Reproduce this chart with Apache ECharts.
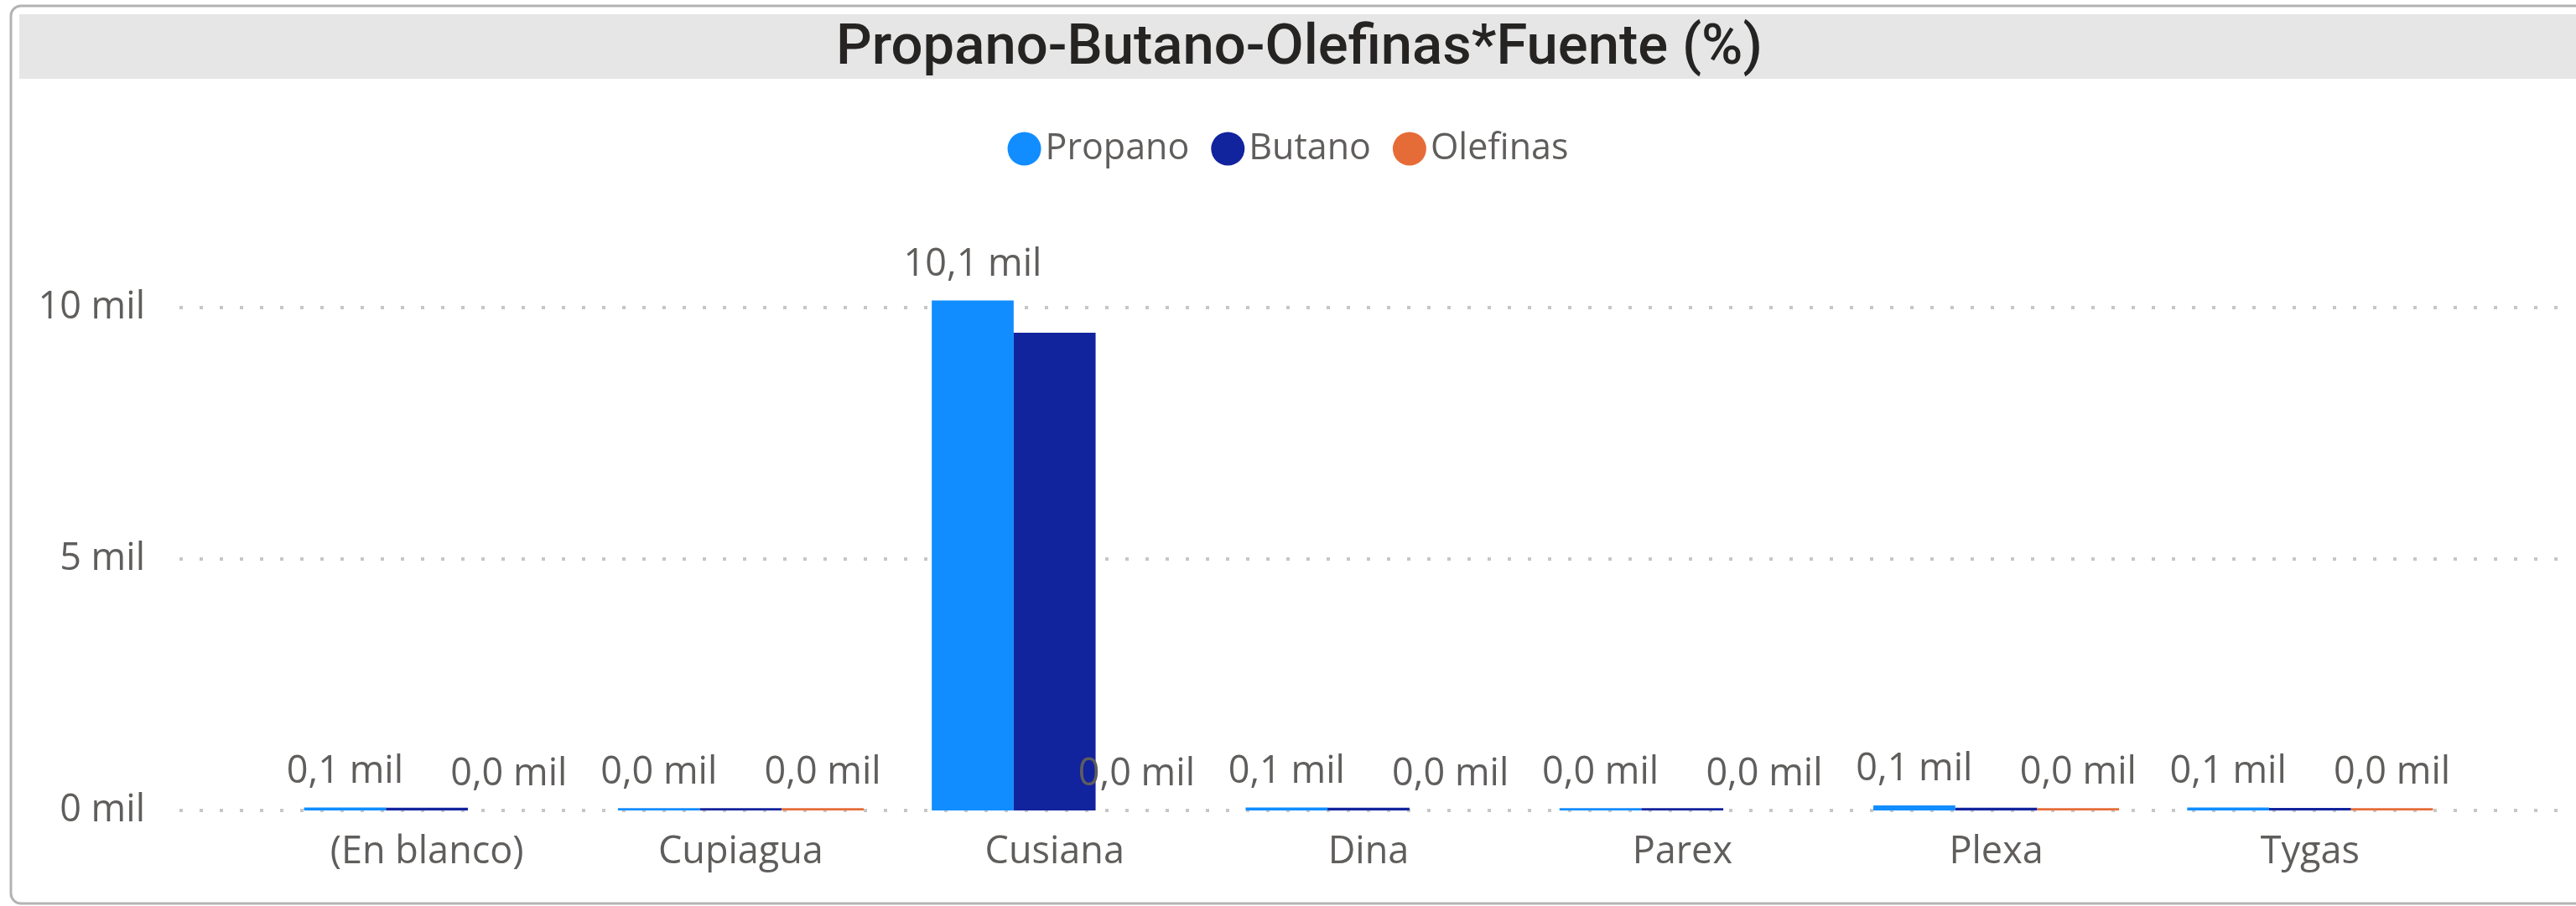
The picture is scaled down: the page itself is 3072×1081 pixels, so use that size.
<!DOCTYPE html>
<html>
<head>
<meta charset="utf-8">
<script src="https://cdn.jsdelivr.net/npm/echarts@6/dist/echarts.min.js"></script>
<style>
html,body{margin:0;padding:0;background:#fff;}
#chart{width:3072px;height:1081px;}
</style>
</head>
<body>
<div id="chart"></div>
<script>
// ---- data ----
const categories = ['(En blanco)', 'Cupiagua', 'Cusiana', 'Dina', 'Parex', 'Plexa', 'Tygas'];
const propano  = [60, 45, 10140, 60, 45, 100, 60];
const butano   = [55, 45, 9500, 55, 45, 55, 50];
const olefinas = [0, 45, 0, 0, 0, 45, 45];
const seriesNames = ['Propano', 'Butano', 'Olefinas'];
const yTicks = [0, 5000, 10000];
const titleText = 'Propano-Butano-Olefinas*Fuente (%)';

const FONT = '"Segoe UI", "Open Sans", "Noto Sans", sans-serif';
const TXT = '#605E5C';
const colors = ['#118DFF', '#12239E', '#E66C37'];

const fmtLabel = v => (v / 1000).toFixed(1).replace('.', ',') + ' mil';
const fmtAxis = v => (v / 1000) + ' mil';

const chart = echarts.init(document.getElementById('chart'), null, {renderer: 'canvas'});

const labelCfg = {
  show: true, position: 'top', distance: 20,
  fontFamily: FONT, fontSize: 45, color: TXT,
  formatter: p => fmtLabel(p.value)
};

const option = {
  animation: false,
  color: colors,
  graphic: [
    { type: 'rect', z: -10, shape: { x: 13, y: 7, width: 3100, height: 1071, r: 12 },
      style: { fill: '#fff', stroke: '#B3B3B3', lineWidth: 3 } },
    { type: 'rect', z: -9, shape: { x: 23, y: 17, width: 3060, height: 77 },
      style: { fill: '#E6E6E6' } }
  ],
  title: {
    text: titleText,
    left: 992, top: 21,
    textStyle: { fontFamily: 'Roboto, sans-serif', fontWeight: 500, fontSize: 67, color: '#252423' }
  },
  legend: {
    data: seriesNames,
    top: 151, left: 'center',
    icon: 'circle', itemWidth: 40, itemHeight: 40, itemGap: 26,
    textStyle: { fontFamily: FONT, fontSize: 43, color: TXT }
  },
  grid: [
    { left: 322, width: 2620, top: 247, bottom: 114, containLabel: false },
    { left: 214, right: 18, top: 367, bottom: 114, containLabel: false }
  ],
  xAxis: [
    { type: 'category', gridIndex: 0, data: categories,
      axisLine: { show: false }, axisTick: { show: false },
      axisLabel: { fontFamily: FONT, fontSize: 45, color: TXT, margin: 28, interval: 0 } },
    { type: 'value', gridIndex: 1, show: false, min: 0, max: 1 }
  ],
  yAxis: [
    { type: 'value', gridIndex: 0, min: 0, max: 12000, show: false, splitLine: { show: false } },
    { type: 'value', gridIndex: 1, min: yTicks[0], max: yTicks[yTicks.length - 1], interval: yTicks[1] - yTicks[0],
      axisLine: { show: false }, axisTick: { show: false },
      axisLabel: { fontFamily: FONT, fontSize: 45, color: TXT, margin: 41, formatter: fmtAxis },
      splitLine: { show: true, lineStyle: { color: '#C8C6C4', width: 4, type: [4, 20] } } }
  ],
  series: [
    { name: seriesNames[0], type: 'bar', xAxisIndex: 0, yAxisIndex: 0, data: propano,
      barGap: '0%', barCategoryGap: '21.7%', label: labelCfg, z: 3 },
    { name: seriesNames[1], type: 'bar', xAxisIndex: 0, yAxisIndex: 0, data: butano,
      barGap: '0%', barCategoryGap: '21.7%', label: { show: false }, z: 3 },
    { name: seriesNames[2], type: 'bar', xAxisIndex: 0, yAxisIndex: 0, data: olefinas,
      barGap: '0%', barCategoryGap: '21.7%', label: labelCfg, z: 3 }
  ]
};
chart.setOption(option);
</script>
</body>
</html>
